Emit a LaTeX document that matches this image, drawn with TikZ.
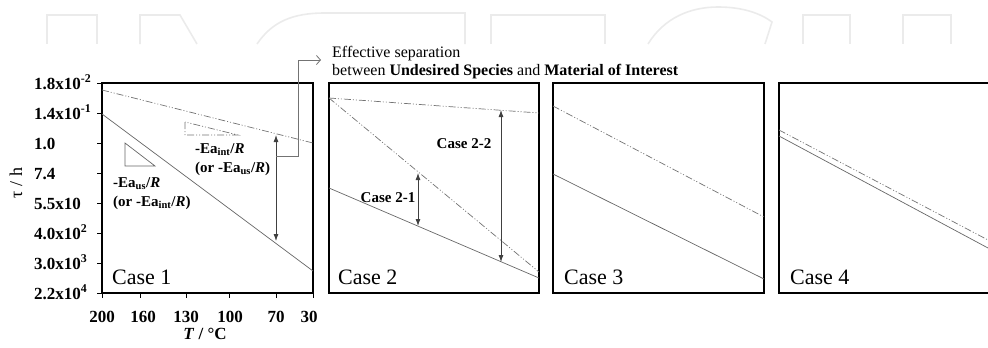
\documentclass[tikz,border=0pt]{standalone}
\usepackage{fontspec}
\setmainfont{Liberation Serif}
\usetikzlibrary{arrows.meta}
\begin{document}
\begin{tikzpicture}[x=1pt,y=-1pt,
  frame/.style={draw=black,line width=1.4pt},
  fitline/.style={draw=black!60,line width=0.7pt},
  ddline/.style={draw=black!55,line width=0.7pt,dash pattern=on 7pt off 2pt on 1pt off 2pt on 1pt off 2pt},
  dbl/.style={draw=black!75,line width=0.8pt,{Latex[length=7pt,width=5pt]}-{Latex[length=7pt,width=5pt]}},
  callout/.style={draw=black!55,line width=0.8pt,-{Straight Barb[length=4pt,width=9pt]}},
  wm/.style={draw=black!8,line width=1.6pt},
  tick/.style={draw=black,line width=0.9pt},
  lbl/.style={font=\fontsize{15}{17}\selectfont\bfseries,inner sep=0pt},
  axl/.style={font=\fontsize{17}{19}\selectfont\bfseries,inner sep=0pt},
  ttl/.style={font=\fontsize{16}{18}\selectfont,inner sep=0pt,anchor=base west},
  casel/.style={font=\fontsize{22}{25}\selectfont,anchor=west,inner sep=0pt},
]
\clip (0,0) rectangle (988,348);
% watermark
\draw[wm] (47,44) -- (47,15) -- (97,15) -- (97,44);
\draw[wm] (140,44) -- (140,15) -- (180,15) -- (197,44);
\draw[wm] (257,44) .. controls (272,22) and (292,13) .. (325,13) -- (465,13) -- (465,44);
\draw[wm] (491,44) -- (491,15) -- (605,15) -- (605,44);
\draw[wm] (648,44) .. controls (664,18) and (690,7) .. (718,7) .. controls (742,7) and (760,13) .. (772,22) -- (765,44);
\draw[wm] (803,44) -- (803,15) -- (850,15) -- (850,44);
\draw[wm] (903,44) -- (903,15) -- (951,15) -- (951,44);

% frames
\draw[frame] (102,83) rectangle (313,293);
\draw[frame] (329,83) rectangle (539,293);
\draw[frame] (553,83) rectangle (764,293);
\draw[frame] (779,83) rectangle (996,293);

% y ticks and labels
\foreach \yy/\lab in {83/{1.8x10\textsuperscript{-2}},113/{1.4x10\textsuperscript{-1}},143/{1.0},173/{7.4},203/{5.5x10},233/{4.0x10\textsuperscript{2}},263/{3.0x10\textsuperscript{3}},293/{2.2x10\textsuperscript{4}}}{
  \draw[tick] (97,\yy) -- (102,\yy);
  \node[axl,anchor=base west] at (34,\yy+6) {\lab};
}
% x ticks and labels
\foreach \xx/\lx/\lab in {102/102/200,140/143/160,186/186/130,229/230/100,276/276/70,313/309/30}{
  \draw[tick] (\xx,293) -- (\xx,298);
  \node[axl,anchor=base] at (\lx,322) {\lab};
}
\node[axl,anchor=base] (xt) at (205,339) {\textit{T} / °C};
\node[font=\fontsize{18}{20}\selectfont,inner sep=0pt,rotate=90] (yt) at (16,183) {τ / h};

% Case 1
\coordinate (s1a) at (102,114); \coordinate (s1b) at (313,271);
\coordinate (d1a) at (102,90);  \coordinate (d1b) at (313,143);
\draw[fitline] (s1a) -- (s1b);
\draw[ddline] (d1a) -- (d1b);
\draw[fitline] (125,143) -- (125,166) -- (155,166) -- cycle;
\draw[ddline] (185,122) -- (185,135) -- (238,135) -- cycle;
\node[lbl,anchor=base west] (ea1) at (195,153) {-Ea\textsubscript{int}/\textit{R}};
\node[lbl,anchor=base west] (ea1b) at (195,172) {(or -Ea\textsubscript{us}/\textit{R})};
\node[lbl,anchor=base west] (ea2) at (113,187) {-Ea\textsubscript{us}/\textit{R}};
\node[lbl,anchor=base west] (ea2b) at (113,206) {(or -Ea\textsubscript{int}/\textit{R})};
\coordinate (a1t) at (276,135); \coordinate (a1b) at (276,241);
\draw[dbl] (a1t) -- (a1b);
\coordinate (c0) at (276,156); \coordinate (c1) at (298,156); \coordinate (c2) at (298,60); \coordinate (c3) at (321,60);
\draw[callout] (c0) -- (c1) -- (c2) -- (c3);
\node[ttl] (eff1) at (332,57) {Effective separation};
\node[ttl] (eff2) at (332,75) {between \textbf{Undesired Species} and \textbf{Material of Interest}};
\node[casel] (cs1) at (112,277) {Case 1};

% Case 2
\draw[ddline] (329,98) -- (539,113);
\draw[ddline] (329,98) -- (539,272);
\draw[fitline] (329,188) -- (539,278);
\coordinate (a2t) at (418,173); \coordinate (a2b) at (418,226);
\draw[dbl] (a2t) -- (a2b);
\coordinate (a3t) at (501,110); \coordinate (a3b) at (501,262);
\draw[dbl] (a3t) -- (a3b);
\node[lbl,anchor=base] (c22) at (464,148) {Case 2-2};
\node[lbl,anchor=base] (c21) at (388,202) {Case 2-1};
\node[casel] (cs2) at (338,277) {Case 2};

% Case 3
\draw[ddline] (553,106) -- (764,217);
\draw[fitline] (553,174) -- (764,279);
\node[casel] (cs3) at (564,277) {Case 3};

% Case 4
\draw[ddline] (779,130) -- (988,240);
\draw[fitline] (779,136) -- (988,248);
\node[casel] (cs4) at (790,277) {Case 4};
\end{tikzpicture}
\end{document}
